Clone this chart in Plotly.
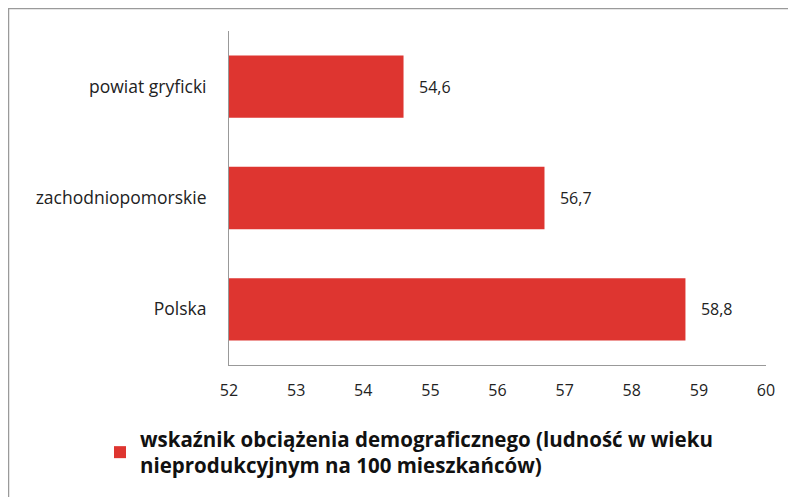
import plotly.graph_objects as go

categories = ["powiat gryficki", "zachodniopomorskie", "Polska"]
values = [54.6, 56.7, 58.8]
x_ticks = [52, 53, 54, 55, 56, 57, 58, 59, 60]
series_name = "<b>wskaźnik obciążenia demograficznego (ludność w wieku<br>nieprodukcyjnym na 100 mieszkańców)</b>"

labels = ["\u00a0\u00a0\u00a0" + f"{v:.1f}".replace(".", ",") for v in values]

W, H = 796, 497
L, R, T, B = 221, 38, 23, 140
pw, ph = W - L - R, H - T - B

fig = go.Figure()
fig.add_trace(go.Bar(
    y=categories, x=values, orientation="h",
    marker=dict(color="#DE3530", line=dict(width=0)),
    text=labels, textposition="outside",
    textfont=dict(size=16, color="#222222", family="Open Sans"),
    cliponaxis=False,
    name=series_name, showlegend=True,
))

fig.update_layout(
    width=W, height=H,
    margin=dict(l=L, r=R, t=T, b=B, autoexpand=False),
    paper_bgcolor="white", plot_bgcolor="white",
    bargap=0.44,
    font=dict(family="Open Sans", color="#222222"),
    xaxis=dict(range=[52, 60], tickvals=x_ticks, showgrid=False, zeroline=False,
               showline=True, linecolor="#999999", linewidth=1, ticks="",
               tickfont=dict(size=16), ticklabelstandoff=11, automargin=False),
    yaxis=dict(autorange="reversed", showgrid=False, showline=True, linecolor="#999999",
               linewidth=1, ticks="", tickfont=dict(size=17.5), ticklabelstandoff=18,
               automargin=False),
    legend=dict(x=(100 - 8 - L) / pw, y=-(419 - 8 - (H - B)) / ph, xanchor="left", yanchor="top",
                font=dict(size=20.5, color="#111111"), bgcolor="rgba(0,0,0,0)",
                itemwidth=30, tracegroupgap=0),
    shapes=[dict(type="rect", xref="paper", yref="paper",
                 x0=(0.5 - L) / pw, x1=1.2, y0=-0.6, y1=(H - B - 0.5) / ph,
                 line=dict(color="#9a9a9a", width=1.5), fillcolor="rgba(0,0,0,0)")],
)

fig.write_html("out.html")
